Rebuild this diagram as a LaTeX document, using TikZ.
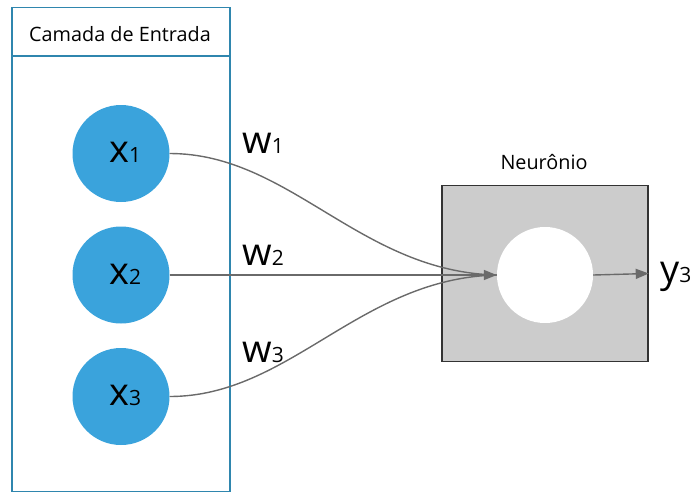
\documentclass[tikz,border=0pt]{standalone}
\usepackage{fontspec}
\setmainfont{Open Sans}
\usetikzlibrary{arrows.meta}
\definecolor{inblue}{HTML}{3AA3DC}
\definecolor{layerline}{HTML}{2F86AE}
\definecolor{conn}{HTML}{6A6A6A}
\definecolor{boxgray}{HTML}{CCCCCC}
\definecolor{boxline}{HTML}{333333}
\newcommand{\biglbl}[2]{{\fontsize{38}{40}\selectfont #1}{\fontsize{21}{24}\selectfont #2}}
\tikzset{
  inputnode/.style={circle, fill=inblue, minimum size=97pt, inner sep=0pt},
  lbl/.style={anchor=base west, inner sep=0pt},
  conline/.style={draw=conn, line width=1.4pt},
  tip/.style={-{Triangle[length=13pt,width=10pt]}},
}
\begin{document}
\begin{tikzpicture}[x=1pt,y=-1pt]
\useasboundingbox (0,0) rectangle (692,493);
% input layer box
\node[draw=layerline, line width=1.5pt, minimum width=218pt, minimum height=484pt, inner sep=0pt] (layer) at (121,249.5) {};
\coordinate (hl) at (12,56);
\coordinate (hr) at (230,56);
\draw[layerline, line width=1.5pt] (hl) -- (hr);
\node[anchor=base, inner sep=0pt, font=\fontsize{19.8}{22}\selectfont] (title) at (120,41) {Camada de Entrada};
% neuron box
\node[draw=boxline, fill=boxgray, line width=1.5pt, minimum width=206pt, minimum height=176pt, inner sep=0pt] (neuron) at (545,273.5) {};
\node[anchor=base, inner sep=0pt, font=\fontsize{19.8}{22}\selectfont] (ntitle) at (544,169) {Neurônio};
\node[circle, fill=white, minimum size=96pt, inner sep=0pt] (core) at (545,275) {};
% inputs
\node[inputnode] (x1) at (121,153.5) {};
\node[inputnode] (x2) at (121,275) {};
\node[inputnode] (x3) at (121,396.5) {};
\node[lbl] (lx1) at (109,162) {\biglbl{x}{1}};
\node[lbl] (lx2) at (109,284) {\biglbl{x}{2}};
\node[lbl] (lx3) at (109,405) {\biglbl{x}{3}};
% connections
\draw[conline] (x1.east) .. controls (290,153.5) and (360,272) .. (core.west);
\draw[conline] (x3.east) .. controls (290,396.5) and (360,278) .. (core.west);
\draw[conline, tip] (x2.east) -- (core.west);
\draw[conline, tip] (core.east) -- (neuron.east);
% weights
\node[lbl] (w1) at (242,153) {\biglbl{w}{1}};
\node[lbl] (w2) at (242,265) {\biglbl{w}{2}};
\node[lbl] (w3) at (242,362) {\biglbl{w}{3}};
% output
\node[lbl] (y3) at (660,282) {\biglbl{y}{3}};
\end{tikzpicture}
\end{document}
